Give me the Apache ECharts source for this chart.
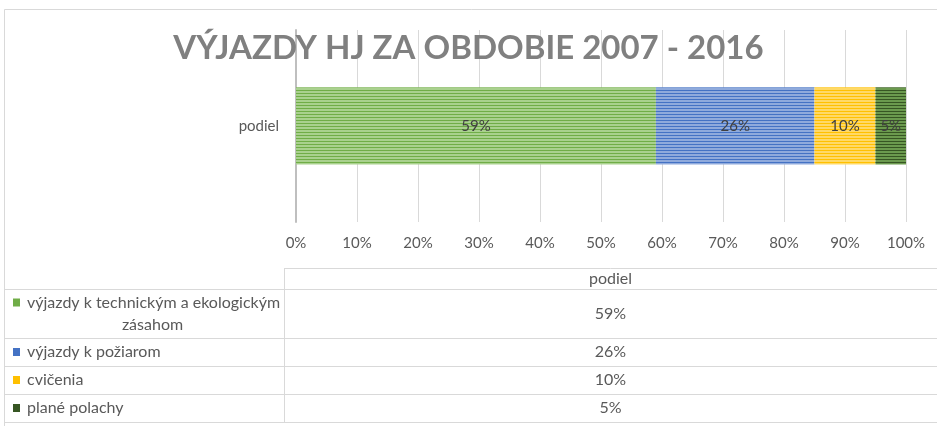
<!DOCTYPE html>
<html>
<head>
<meta charset="utf-8">
<script src="https://cdn.jsdelivr.net/npm/echarts@6/dist/echarts.min.js"></script>
<style>
  html, body { margin: 0; padding: 0; background: #fff; }
  #chart { width: 937px; height: 426px; }
</style>
</head>
<body>
<div id="chart"></div>
<script>
// data
const categories = ['podiel'];
const seriesNames = [
  'výjazdy k technickým a ekologickým zásahom',
  'výjazdy k požiarom',
  'cvičenia',
  'plané polachy'
];
const tableNames = [
  ['výjazdy k technickým a ekologickým', 'zásahom'],
  ['výjazdy k požiarom'],
  ['cvičenia'],
  ['plané polachy']
];
const shares = [0.59, 0.26, 0.10, 0.05];
const tickLabels = ['0%', '10%', '20%', '30%', '40%', '50%', '60%', '70%', '80%', '90%', '100%'];

// colours: base fill + stripe colour
const fills = ['#a9d18e', '#8faadc', '#ffd966', '#6b9a4e'];
const stripes = ['#70ad47', '#4472c4', '#ffc000', '#375623'];

const font = 'Lato, "Open Sans", sans-serif';
const textColor = '#595959';
const lineColor = '#d9d9d9';
const fs = 15;

const pct = v => Math.round(v * 100) + '%';

const series = shares.map((v, i) => ({
  name: seriesNames[i],
  type: 'bar',
  stack: 'total',
  barWidth: '40%',
  data: [v],
  itemStyle: {
    color: fills[i],
    decal: {
      symbol: 'rect',
      symbolSize: 1,
      dashArrayX: [1, 0],
      dashArrayY: [1, 2],
      rotation: 0,
      color: stripes[i]
    }
  },
  label: {
    show: true,
    position: 'inside',
    formatter: p => pct(p.value),
    color: '#404040',
    fontFamily: font,
    fontSize: fs
  }
}));

// data table below the chart
const rowEdges = [268, 289, 338, 366, 394, 422];
const colSplit = 284;
const tableLeft = 5;
const tableRight = 937;
const graphic = [];

// outer chart border
graphic.push({ type: 'rect', shape: { x: 4.5, y: 9.5, width: 940, height: 420 },
  style: { fill: 'none', stroke: lineColor, lineWidth: 1 }, silent: true });

// header top line (only over value column)
graphic.push({ type: 'line', shape: { x1: colSplit, y1: rowEdges[0] + 0.5, x2: tableRight, y2: rowEdges[0] + 0.5 },
  style: { stroke: lineColor, lineWidth: 1 } });
for (let r = 1; r < rowEdges.length; r++) {
  graphic.push({ type: 'line', shape: { x1: tableLeft, y1: rowEdges[r] + 0.5, x2: tableRight, y2: rowEdges[r] + 0.5 },
    style: { stroke: lineColor, lineWidth: 1 } });
}
graphic.push({ type: 'line', shape: { x1: colSplit + 0.5, y1: rowEdges[0], x2: colSplit + 0.5, y2: rowEdges[rowEdges.length - 1] },
  style: { stroke: lineColor, lineWidth: 1 } });

const cellFont = '16px ' + font;
const valueCenter = (colSplit + tableRight) / 2;
graphic.push({ type: 'text', x: valueCenter, y: (rowEdges[0] + rowEdges[1]) / 2,
  style: { text: categories[0], fill: textColor, font: cellFont, align: 'center', verticalAlign: 'middle' } });

shares.forEach((v, i) => {
  const top = rowEdges[i + 1];
  const bottom = rowEdges[i + 2];
  const mid = (top + bottom) / 2;
  graphic.push({ type: 'text', x: valueCenter, y: mid,
    style: { text: pct(v), fill: textColor, font: cellFont, align: 'center', verticalAlign: 'middle' } });
  const lines = tableNames[i];
  const keyY = lines.length > 1 ? mid - 11 : mid;
  graphic.push({ type: 'rect', shape: { x: 13, y: keyY - 4, width: 7, height: 8 },
    style: { fill: stripes[i] } });
  if (lines.length > 1) {
    graphic.push({ type: 'text', x: 27, y: mid - 11,
      style: { text: lines[0], fill: textColor, font: cellFont, align: 'left', verticalAlign: 'middle' } });
    graphic.push({ type: 'text', x: (tableLeft + colSplit) / 2 + 8, y: mid + 11,
      style: { text: lines[1], fill: textColor, font: cellFont, align: 'center', verticalAlign: 'middle' } });
  } else {
    graphic.push({ type: 'text', x: 27, y: mid,
      style: { text: lines[0], fill: textColor, font: cellFont, align: 'left', verticalAlign: 'middle' } });
  }
});

const chart = echarts.init(document.getElementById('chart'));
chart.setOption({
  animation: false,
  backgroundColor: '#fff',
  title: {
    text: 'VÝJAZDY HJ ZA OBDOBIE 2007 - 2016',
    left: 'center',
    top: 27,
    textStyle: { color: '#808080', fontSize: 33, fontWeight: 'bold', fontFamily: font }
  },
  grid: { left: 296, right: 31, top: 30, bottom: 204, containLabel: false },
  xAxis: {
    type: 'value',
    min: 0,
    max: 1,
    interval: 0.1,
    axisLine: { show: false },
    axisTick: { show: false },
    splitLine: { lineStyle: { color: lineColor } },
    axisLabel: {
      color: textColor, fontFamily: font, fontSize: fs, margin: 14,
      formatter: v => tickLabels[Math.round(v * 10)]
    }
  },
  yAxis: {
    type: 'category',
    data: categories,
    axisLine: { lineStyle: { color: '#bfbfbf', width: 2 } },
    axisTick: { show: false },
    axisLabel: { color: textColor, fontFamily: font, fontSize: fs, margin: 17 }
  },
  series: series,
  graphic: graphic
});
</script>
</body>
</html>
